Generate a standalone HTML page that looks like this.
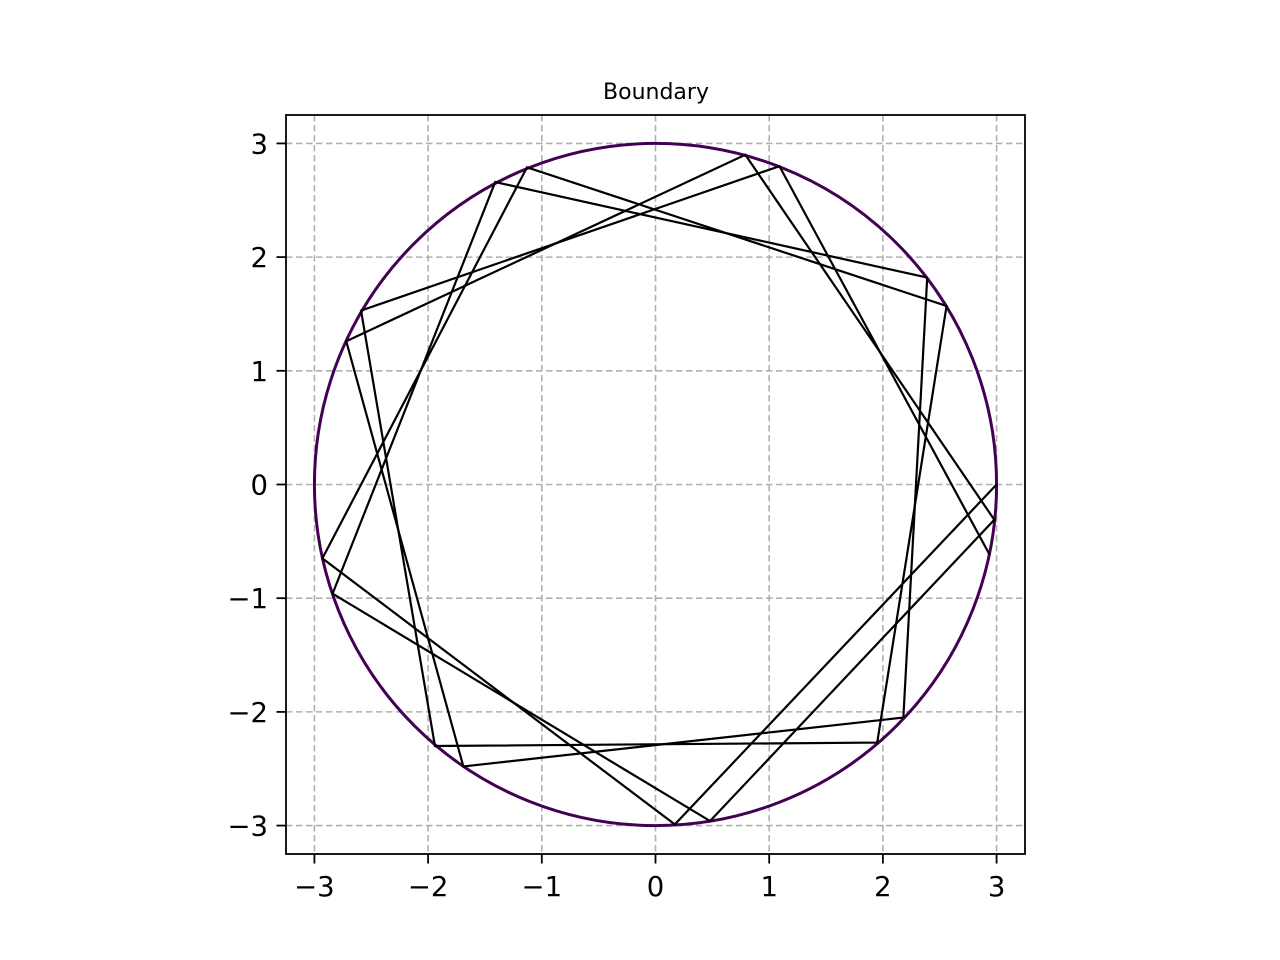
<!DOCTYPE html>
<html><head><meta charset="utf-8"><style>
html,body{margin:0;padding:0;background:#fff;}
svg{display:block;font-family:"DejaVu Sans","Liberation Sans",sans-serif;}
</style></head><body>
<svg id="chart" width="1280" height="960" viewBox="0 0 1280 960" xmlns="http://www.w3.org/2000/svg">
<rect width="1280" height="960" fill="#fff"/>
<text x="656" y="99" font-size="22" text-anchor="middle" fill="#000">Boundary</text>
<g id="grid"></g>
<g id="series"></g>
<rect x="286" y="115" width="739" height="739" fill="none" stroke="#000" stroke-width="1.8"/>
<g id="ticks"></g>
</svg>
<script>
const xTicks = [-3,-2,-1,0,1,2,3];
const yTicks = [-3,-2,-1,0,1,2,3];
const tickLabels = ["\u22123","\u22122","\u22121","0","1","2","3"];
const boundaryRadius = [3];
const pathAX = [3.0, 0.17, -2.93, -1.13, 2.56, 1.95, -1.94, -2.59, 1.09, 2.94];
const pathAY = [0.0, -2.99, -0.65, 2.79, 1.57, -2.27, -2.30, 1.53, 2.80, -0.62];
const pathBX = [2.39, 2.18, -1.69, -2.72, 0.79, 2.98, 0.48, -2.84, -1.41, 2.39];
const pathBY = [1.82, -2.05, -2.48, 1.26, 2.90, -0.31, -2.96, -0.96, 2.66, 1.82];

const NS = "http://www.w3.org/2000/svg";
const x0 = 286, w = 739, y0 = 115, h = 739, lo = -3.25, hi = 3.25;
function sx(v){ return x0 + (v - lo) / (hi - lo) * w; }
function sy(v){ return y0 + h - (v - lo) / (hi - lo) * h; }
function mk(tag, attrs, parent){ const e = document.createElementNS(NS, tag); for (const k in attrs) e.setAttribute(k, attrs[k]); parent.appendChild(e); return e; }

const grid = document.getElementById('grid');
const ticks = document.getElementById('ticks');
const series = document.getElementById('series');

xTicks.forEach((t, i) => {
  const gl = mk('line', {x1: sx(t), x2: sx(t), y1: y0, y2: y0 + h, stroke: '#b0b0b0', 'stroke-width': 1.6, 'stroke-dasharray': '6.5,3.5'}, grid);
  
  
  const tk = mk('line', {x1: sx(t), x2: sx(t), y1: y0 + h, y2: y0 + h + 9.5, stroke: '#000', 'stroke-width': 1.8}, ticks);
  
  
  const tl = mk('text', {x: sx(t), y: 896, 'font-size': 27.5, 'text-anchor': 'middle', fill: '#000'}, ticks);
  tl.textContent = tickLabels[i];
  
  
});
yTicks.forEach((t, i) => {
  const gl = mk('line', {x1: x0, x2: x0 + w, y1: sy(t), y2: sy(t), stroke: '#b0b0b0', 'stroke-width': 1.6, 'stroke-dasharray': '6.5,3.5'}, grid);
  
  
  const tk = mk('line', {x1: x0 - 9.5, x2: x0, y1: sy(t), y2: sy(t), stroke: '#000', 'stroke-width': 1.8}, ticks);
  
  
  const tl = mk('text', {x: 268, y: sy(t) + 10, 'font-size': 27.5, 'text-anchor': 'end', fill: '#000'}, ticks);
  tl.textContent = tickLabels[i];
  
  
});

const r = boundaryRadius[0];
const circ = mk('ellipse', {cx: sx(0), cy: sy(0), rx: sx(r) - sx(0), ry: sy(0) - sy(r), fill: 'none', stroke: '#440154', 'stroke-width': 3}, series);



function drawPath(xs, ys, name){
  let d = '';
  xs.forEach((v, i) => { d += (i ? 'L' : 'M') + sx(v).toFixed(2) + ',' + sy(ys[i]).toFixed(2); });
  const pl = mk('path', {d: d, fill: 'none', stroke: '#000', 'stroke-width': 2.2, 'stroke-linejoin': 'miter'}, series);
  
  
}
drawPath(pathAX, pathAY, 'trajectory-line-a');
drawPath(pathBX, pathBY, 'trajectory-line-b');
</script>
</body></html>
